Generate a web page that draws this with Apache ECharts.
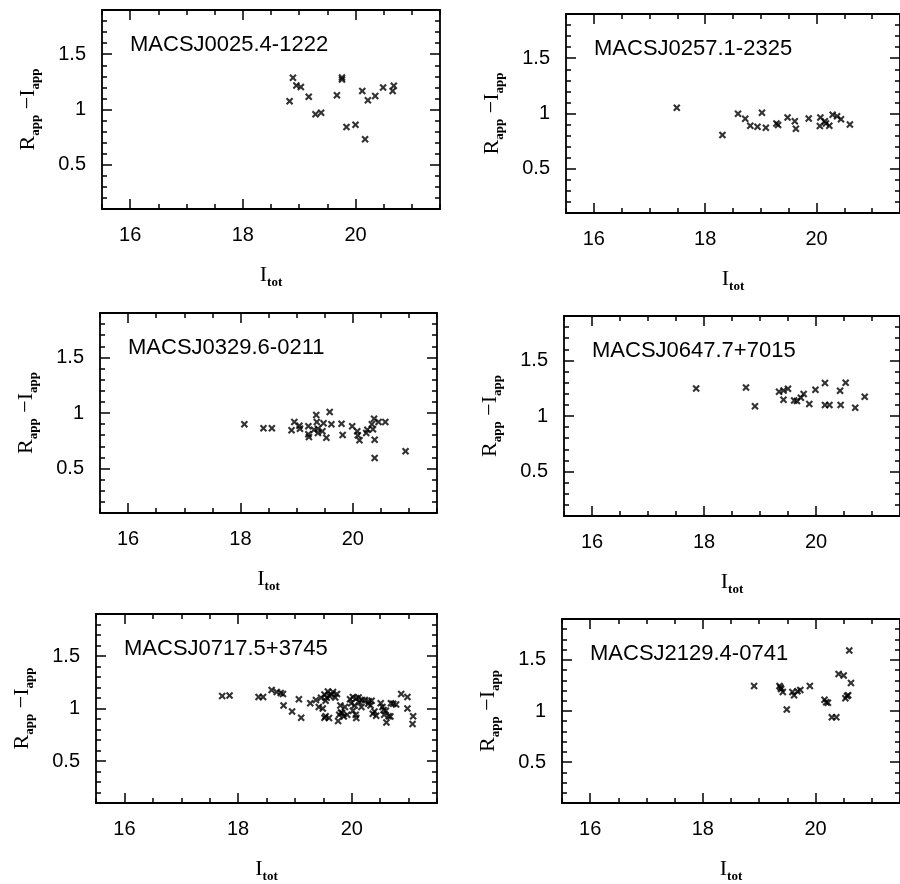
<!DOCTYPE html>
<html>
<head>
<meta charset="utf-8">
<script src="https://cdn.jsdelivr.net/npm/echarts@6/dist/echarts.min.js"></script>
<style>
html,body{margin:0;padding:0;background:#fff;}
#chart{width:900px;height:884px;}
</style>
</head>
<body>
<div id="chart"></div>
<script>
// ---------------- data ----------------
const panelNames = ['MACSJ0025.4-1222', 'MACSJ0257.1-2325', 'MACSJ0329.6-0211',
                    'MACSJ0647.7+7015', 'MACSJ0717.5+3745', 'MACSJ2129.4-0741'];
const xTickLabels = [16, 18, 20];
const yTickLabels = [0.5, 1, 1.5];

const x0025 = [18.83, 18.89, 18.95, 19.03, 19.17, 19.29, 19.39, 19.67, 19.76, 19.76, 19.84, 20.00, 20.12, 20.17, 20.22, 20.35, 20.49, 20.66, 20.68];
const y0025 = [1.075, 1.287, 1.218, 1.203, 1.116, 0.958, 0.970, 1.128, 1.272, 1.290, 0.842, 0.863, 1.167, 0.731, 1.084, 1.122, 1.200, 1.167, 1.215];

const x0257 = [17.49, 18.31, 18.59, 18.72, 18.81, 18.94, 19.02, 19.09, 19.28, 19.31, 19.48, 19.61, 19.63, 19.86, 20.07, 20.06, 20.15, 20.17, 20.23, 20.29, 20.37, 20.44, 20.60];
const y0257 = [1.051, 0.805, 0.997, 0.952, 0.889, 0.880, 1.006, 0.871, 0.910, 0.895, 0.964, 0.931, 0.862, 0.955, 0.964, 0.886, 0.931, 0.910, 0.889, 0.988, 0.976, 0.949, 0.901];

const x0329 = [18.07, 18.41, 18.56, 18.91, 18.96, 19.05, 19.06, 19.21, 19.21, 19.22, 19.31, 19.35, 19.36, 19.38, 19.38, 19.46, 19.48, 19.53, 19.59, 19.62, 19.80, 19.82, 19.99, 20.08, 20.09, 20.12, 20.24, 20.26, 20.34, 20.36, 20.38, 20.39, 20.39, 20.46, 20.58, 20.94];
const y0329 = [0.898, 0.862, 0.862, 0.844, 0.919, 0.886, 0.859, 0.880, 0.808, 0.784, 0.850, 0.982, 0.919, 0.859, 0.820, 0.835, 0.907, 0.778, 1.009, 0.898, 0.904, 0.802, 0.880, 0.835, 0.799, 0.754, 0.820, 0.850, 0.898, 0.853, 0.949, 0.760, 0.596, 0.919, 0.919, 0.656];

const x0647 = [17.86, 18.75, 18.91, 19.34, 19.42, 19.42, 19.50, 19.61, 19.66, 19.73, 19.78, 19.88, 19.99, 20.16, 20.16, 20.24, 20.43, 20.44, 20.53, 20.70, 20.87];
const y0647 = [1.248, 1.257, 1.087, 1.218, 1.230, 1.146, 1.245, 1.140, 1.134, 1.164, 1.197, 1.107, 1.236, 1.296, 1.099, 1.099, 1.227, 1.099, 1.299, 1.075, 1.173];

const x0717 = [17.72, 17.85, 18.36, 18.44, 18.59, 18.68, 18.75, 18.79, 18.80, 18.95, 19.07, 19.11, 19.27, 19.37, 19.42,
               19.46, 19.52, 19.58, 19.61, 19.54, 19.56, 19.49, 19.52, 19.54, 19.74, 19.80, 19.78, 19.83, 19.76, 19.88,
               19.97, 20.02, 20.08, 20.13, 20.05, 19.99, 20.07, 20.02, 20.17, 20.23, 20.30, 20.33, 20.40, 20.43, 20.37,
               20.51, 20.54, 20.60, 20.57, 20.61, 20.65, 20.69, 20.78, 20.87, 20.98, 20.98, 21.08, 21.07,
               19.64, 19.67, 19.71, 20.12, 20.18, 20.29, 20.35, 20.56, 20.68, 20.73, 19.92, 19.86, 20.08, 19.81, 19.60];
const y0717 = [1.119, 1.125, 1.109, 1.109, 1.177, 1.156, 1.147, 1.139, 1.029, 0.971, 1.088, 0.912, 1.050, 1.080, 1.015,
               1.103, 1.133, 1.162, 1.118, 1.074, 1.103, 1.000, 0.912, 0.926, 1.139, 1.029, 0.941, 0.956, 0.882, 1.015,
               1.088, 1.109, 1.097, 1.059, 1.029, 1.050, 0.941, 0.979, 1.015, 1.080, 1.068, 1.029, 0.971, 0.932, 0.950,
               1.050, 1.015, 0.979, 0.941, 0.867, 0.926, 1.050, 1.038, 1.139, 1.109, 1.000, 0.926, 0.853,
               1.134, 1.158, 1.104, 1.104, 1.081, 1.045, 1.075, 0.985, 0.925, 1.045, 0.940, 0.925, 0.910, 0.961, 0.910];

const x2129 = [20.60, 18.91, 19.36, 19.39, 19.42, 19.38, 19.59, 19.62, 19.68, 19.73, 19.90, 19.49, 20.16, 20.19, 20.22, 20.29, 20.37, 20.41, 20.50, 20.63, 20.53, 20.56, 20.58];
const y2129 = [1.592, 1.244, 1.244, 1.214, 1.185, 1.229, 1.185, 1.155, 1.194, 1.205, 1.244, 1.015, 1.110, 1.086, 1.080, 0.938, 0.938, 1.363, 1.348, 1.274, 1.125, 1.146, 1.155];

const panelX = [x0025, x0257, x0329, x0647, x0717, x2129];
const panelY = [y0025, y0257, y0329, y0647, y0717, y2129];

// ---------------- layout / style ----------------
const layout = [
  {left: 102, top: 10,  width: 338, height: 199},
  {left: 566, top: 14,  width: 343, height: 199},
  {left: 100, top: 313, width: 337, height: 200},
  {left: 564, top: 316, width: 343, height: 200},
  {left: 96,  top: 614, width: 341, height: 201},
  {left: 562, top: 619, width: 343, height: 198}
];
const X_MIN = 15.5, X_MAX = 21.5, Y_MIN = 0.1, Y_MAX = 1.9;
const INK = '#000';
const crossPath = 'path://M0,2L2,0L5,3L8,0L10,2L7,5L10,8L8,10L5,7L2,10L0,8L3,5Z';

const richName = {
  r: {fontFamily: 'Liberation Serif', fontSize: 22, color: INK, lineHeight: 28},
  m: {fontFamily: 'Liberation Serif', fontSize: 22, color: INK, lineHeight: 28},
  s: {fontFamily: 'Liberation Serif', fontWeight: 'bold', fontSize: 13, color: INK, lineHeight: 14, verticalAlign: 'bottom'}
};

const option = {
  backgroundColor: '#fff',
  animation: false,
  grid: [], xAxis: [], yAxis: [], series: [], title: []
};

function tickStyle(len, inside) {
  return {show: true, inside: inside, length: len, lineStyle: {color: INK, width: 1.5}};
}

panelNames.forEach((name, i) => {
  const g = layout[i];
  option.grid.push({left: g.left, top: g.top, width: g.width, height: g.height});

  const xMain = option.xAxis.length;
  const common = {gridIndex: i, type: 'value', splitLine: {show: false}};
  const line = {show: true, onZero: false, lineStyle: {color: INK, width: 1.8}};
  // bottom major (labels + name)
  option.xAxis.push(Object.assign({}, common, {
    min: X_MIN, max: X_MAX, position: 'bottom', axisLine: line,
    axisTick: Object.assign(tickStyle(10, true), {customValues: xTickLabels}),
    axisLabel: {show: true, customValues: xTickLabels, margin: 16, fontSize: 20,
                fontFamily: 'Liberation Sans', color: INK},
    name: '{r|I}{s|tot}', nameLocation: 'middle', nameGap: 52,
    nameTextStyle: {rich: richName}
  }));
  // bottom minor
  option.xAxis.push(Object.assign({}, common, {
    min: X_MIN, max: X_MAX, interval: 0.5, position: 'bottom',
    axisLine: {show: false}, axisTick: tickStyle(5, true), axisLabel: {show: false}
  }));
  // top major
  option.xAxis.push(Object.assign({}, common, {
    min: X_MIN, max: X_MAX, position: 'top', axisLine: line,
    axisTick: Object.assign(tickStyle(10, true), {customValues: xTickLabels}),
    axisLabel: {show: false}
  }));
  // top minor
  option.xAxis.push(Object.assign({}, common, {
    min: X_MIN, max: X_MAX, interval: 0.5, position: 'top',
    axisLine: {show: false}, axisTick: tickStyle(5, true), axisLabel: {show: false}
  }));

  const yMain = option.yAxis.length;
  option.yAxis.push(Object.assign({}, common, {
    min: Y_MIN, max: Y_MAX, position: 'left', axisLine: line,
    axisTick: Object.assign(tickStyle(10, true), {customValues: yTickLabels}),
    axisLabel: {show: true, customValues: yTickLabels, margin: 16, fontSize: 20,
                fontFamily: 'Liberation Sans', color: INK},
    name: '{r|R}{s|app}{m| −I}{s|app}', nameLocation: 'middle', nameRotate: 90, nameGap: 60,
    nameTextStyle: {rich: richName}
  }));
  option.yAxis.push(Object.assign({}, common, {
    min: Y_MIN, max: Y_MAX, interval: 0.1, position: 'left',
    axisLine: {show: false}, axisTick: tickStyle(5, true), axisLabel: {show: false}
  }));
  option.yAxis.push(Object.assign({}, common, {
    min: Y_MIN, max: Y_MAX, position: 'right', axisLine: line,
    axisTick: Object.assign(tickStyle(10, true), {customValues: yTickLabels}),
    axisLabel: {show: false}
  }));
  option.yAxis.push(Object.assign({}, common, {
    min: Y_MIN, max: Y_MAX, interval: 0.1, position: 'right',
    axisLine: {show: false}, axisTick: tickStyle(5, true), axisLabel: {show: false}
  }));

  option.title.push({
    text: name, left: g.left + 28, top: g.top + 24, padding: 0,
    textStyle: {fontSize: 22, fontWeight: 'normal', fontFamily: 'Liberation Sans', color: INK}
  });

  option.series.push({
    type: 'scatter', xAxisIndex: xMain, yAxisIndex: yMain,
    symbol: crossPath, symbolSize: 7.5,
    itemStyle: {color: INK},
    data: panelX[i].map((v, k) => [v, panelY[i][k]])
  });
});

const chart = echarts.init(document.getElementById('chart'), null, {renderer: 'canvas'});
chart.setOption(option);
</script>
</body>
</html>
